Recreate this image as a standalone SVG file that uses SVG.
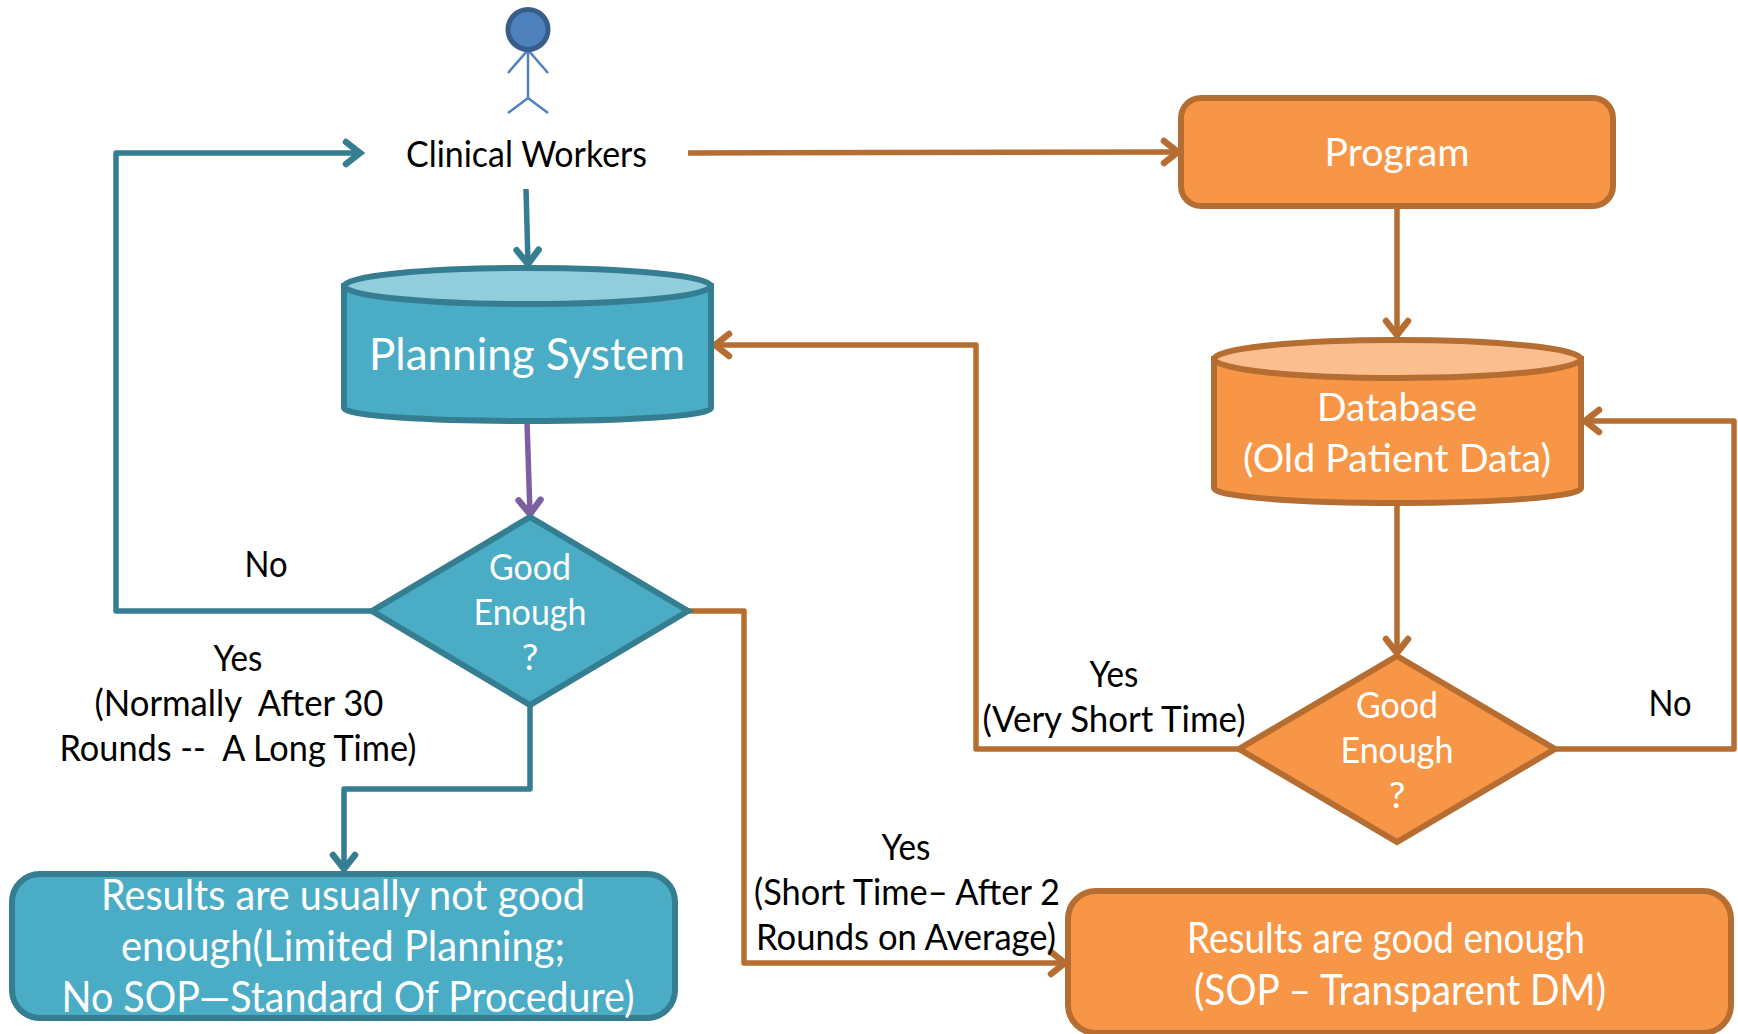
<svg xmlns="http://www.w3.org/2000/svg" width="1738" height="1034" viewBox="0 0 1738 1034">
<style>
text{font-family:Lato,Carlito,"Open Sans",sans-serif;text-anchor:middle}
.b{fill:#000;font-size:36px}
.w{fill:#fff;font-size:39px}
.l{fill:#fff;font-size:42px}
.d{font-size:37px}
.tealS{fill:#4bacc6;stroke:#357d91;stroke-width:6}
.orS{fill:#f79646;stroke:#b66d31;stroke-width:6}
.c{fill:none;stroke-width:5.5;stroke-linejoin:round}
.t{stroke:#357d91}.o{stroke:#b66d31}.p{stroke:#7d5fa0}
.ah{fill:none;stroke-width:6.5;stroke-linecap:round;stroke-linejoin:miter}
</style>
<defs>
<marker id="at" markerUnits="userSpaceOnUse" markerWidth="40" markerHeight="40" refX="20" refY="20" orient="auto" overflow="visible"><path class="ah" stroke="#357d91" d="M6,9 L20,20 L6,31"/></marker>
<marker id="ao" markerUnits="userSpaceOnUse" markerWidth="40" markerHeight="40" refX="20" refY="20" orient="auto" overflow="visible"><path class="ah" stroke="#b66d31" d="M6,9 L20,20 L6,31"/></marker>
<marker id="ap" markerUnits="userSpaceOnUse" markerWidth="40" markerHeight="40" refX="20" refY="20" orient="auto" overflow="visible"><path class="ah" stroke="#7d5fa0" d="M6,9 L20,20 L6,31"/></marker>
</defs>
<rect width="1738" height="1034" fill="#fff"/>
<g id="connectors">
<path class="c t" marker-end="url(#at)" d="M371,611 H116 V153 H360"/>
<path class="c t" marker-end="url(#at)" d="M526,189 L528,264"/>
<path class="c p" marker-end="url(#ap)" d="M527,422 L530,514"/>
<path class="c t" marker-end="url(#at)" d="M530,705 V789 H344 V869"/>
<path class="c o" marker-end="url(#ao)" d="M689,611 H744 V963 H1065"/>
<path class="c o" marker-end="url(#ao)" d="M688,153 L1178,152"/>
<path class="c o" marker-end="url(#ao)" d="M1397,206 V335"/>
<path class="c o" marker-end="url(#ao)" d="M1397,504 V653"/>
<path class="c o" marker-end="url(#ao)" d="M1238,749 H976 V345 H715"/>
<path class="c o" marker-end="url(#ao)" d="M1556,749 H1734 V421 H1585"/>
</g>
<g id="actor">
<path d="M528,50 V98 M508,73 L528,50 L548,73 M508,113 L528,98 L548,113" fill="none" stroke="#4f81bd" stroke-width="2.5"/>
<circle cx="528" cy="29.500" r="20" fill="#4f81bd" stroke="#385d8a" stroke-width="5"/>
<text class="b" x="526.500" y="167" textLength="241" lengthAdjust="spacingAndGlyphs">Clinical Workers</text>
</g>
<g id="planning">
<path class="tealS" d="M344,286 V408 C344,416 430,421 528,421 C626,421 711,416 711,408 V286 Z"/>
<ellipse class="tealS" style="fill:#92cddc" cx="527.500" cy="286" rx="183.500" ry="18"/>
<text class="w" x="527" y="370" textLength="316" lengthAdjust="spacingAndGlyphs" style="font-size:44px">Planning System</text>
</g>
<g id="program">
<rect class="orS" x="1181" y="98" width="432" height="108" rx="20"/>
<text class="w" x="1397" y="166" textLength="145" lengthAdjust="spacingAndGlyphs">Program</text>
</g>
<g id="database">
<path class="orS" d="M1214,359 V488 C1214,497 1300,503 1397,503 C1494,503 1581,497 1581,488 V359 Z"/>
<ellipse class="orS" style="fill:#fbbf8f" cx="1397.500" cy="359" rx="183.500" ry="19"/>
<text class="w" x="1397" y="421" textLength="160" lengthAdjust="spacingAndGlyphs">Database</text>
<text class="w" x="1397" y="472" textLength="308" lengthAdjust="spacingAndGlyphs">(Old Patient Data)</text>
</g>
<g id="decision-left">
<polygon class="tealS" points="530,517 688,611 530,705 372,611"/>
<text class="w d" x="530" y="580" textLength="82" lengthAdjust="spacingAndGlyphs">Good</text>
<text class="w d" x="530" y="625" textLength="113" lengthAdjust="spacingAndGlyphs">Enough</text>
<text class="w d" x="530" y="670">?</text>
</g>
<g id="decision-right">
<polygon class="orS" points="1397,656 1555,749 1397,842 1239,749"/>
<text class="w d" x="1397" y="718" textLength="82" lengthAdjust="spacingAndGlyphs">Good</text>
<text class="w d" x="1397" y="763" textLength="113" lengthAdjust="spacingAndGlyphs">Enough</text>
<text class="w d" x="1397" y="808">?</text>
</g>
<g id="result-left">
<rect class="tealS" x="12" y="874" width="663" height="144" rx="28"/>
<text class="l" x="343" y="910" textLength="484" lengthAdjust="spacingAndGlyphs">Results are usually not good</text>
<text class="l" x="343" y="961" textLength="444" lengthAdjust="spacingAndGlyphs">enough(Limited Planning;</text>
<text class="l" x="348" y="1012" textLength="573" lengthAdjust="spacingAndGlyphs">No SOP—Standard Of Procedure)</text>
</g>
<g id="result-right">
<rect class="orS" x="1068" y="891" width="663" height="142" rx="28"/>
<text class="l" x="1386" y="953" textLength="398" lengthAdjust="spacingAndGlyphs">Results are good enough</text>
<text class="l" x="1400" y="1005" textLength="412" lengthAdjust="spacingAndGlyphs">(SOP – Transparent DM)</text>
</g>
<g id="labels">
<text class="b" x="266" y="577" textLength="43" lengthAdjust="spacingAndGlyphs">No</text>
<text class="b" x="238" y="671" textLength="49" lengthAdjust="spacingAndGlyphs">Yes</text>
<text class="b" x="239" y="716" textLength="289" lengthAdjust="spacingAndGlyphs" xml:space="preserve">(Normally  After 30</text>
<text class="b" x="238" y="761" textLength="357" lengthAdjust="spacingAndGlyphs" xml:space="preserve">Rounds --  A Long Time)</text>
<text class="b" x="1114" y="687" textLength="49" lengthAdjust="spacingAndGlyphs">Yes</text>
<text class="b" x="1114" y="732" textLength="263" lengthAdjust="spacingAndGlyphs">(Very Short Time)</text>
<text class="b" x="1670" y="716" textLength="43" lengthAdjust="spacingAndGlyphs">No</text>
<text class="b" x="906" y="860" textLength="49" lengthAdjust="spacingAndGlyphs">Yes</text>
<text class="b" x="907" y="905" textLength="306" lengthAdjust="spacingAndGlyphs">(Short Time– After 2</text>
<text class="b" x="906" y="950" textLength="300" lengthAdjust="spacingAndGlyphs">Rounds on Average)</text>
</g>
</svg>
